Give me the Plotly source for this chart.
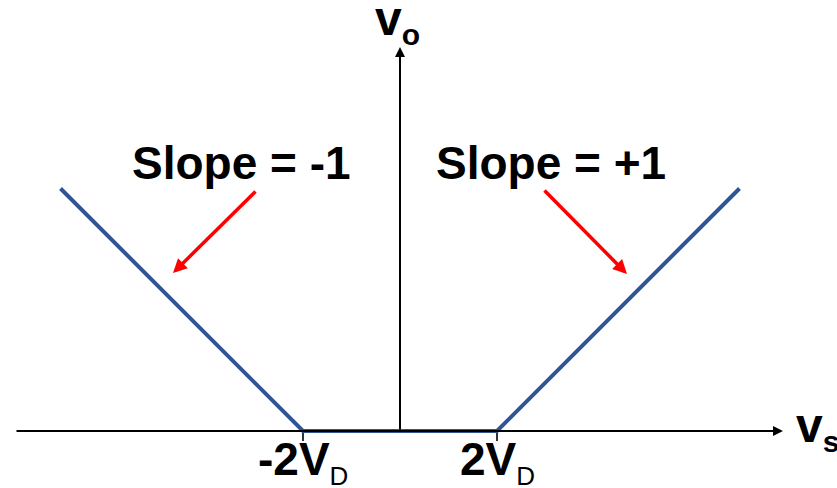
import plotly.graph_objects as go

# Full-wave rectifier transfer characteristic (in units of V_D)
vs = [-7, -2, 2, 7]
vo = [5, 0, 0, 5]

tick_vals = [-2, 2]
tick_text = ["-2V", "2V"]
tick_sub = "D"

slope_text = ["Slope = -1", "Slope = +1"]

W, H = 837, 488
unit = 48.5          # pixels per V_D
ox, oy = 400, 431    # pixel position of the origin


def px(x):
    return (x - ox) / unit


def py(y):
    return (oy - y) / unit


FONT = "Liberation Sans, Arial, sans-serif"
BLUE = "#2F5597"
RED = "#FF0000"

fig = go.Figure()

fig.add_trace(go.Scatter(
    x=vs, y=vo, mode="lines",
    line=dict(color=BLUE, width=4),
    hoverinfo="skip", showlegend=False,
))

annotations = []

# x axis arrow
annotations.append(dict(
    x=px(783), y=0, ax=px(15), ay=0, xref="x", yref="y", axref="x", ayref="y",
    text="", showarrow=True, arrowhead=2, arrowsize=1, arrowwidth=2,
    arrowcolor="black", standoff=0, startstandoff=0,
))
# y axis arrow
annotations.append(dict(
    x=0, y=py(47), ax=0, ay=0, xref="x", yref="y", axref="x", ayref="y",
    text="", showarrow=True, arrowhead=2, arrowsize=1, arrowwidth=2,
    arrowcolor="black", standoff=0, startstandoff=0,
))

# axis names
annotations.append(dict(
    x=px(397), y=py(21), xref="x", yref="y", showarrow=False,
    text="v<sub><span style='font-size:30px'>o</span></sub>",
    font=dict(family=FONT, size=48, color="black", weight="bold"),
    xanchor="center", yanchor="middle",
))
annotations.append(dict(
    x=px(794), y=py(428), xref="x", yref="y", showarrow=False,
    text="v<sub><span style='font-size:30px'>s</span></sub>",
    font=dict(family=FONT, size=48, color="black", weight="bold"),
    xanchor="left", yanchor="middle",
))

# tick labels
for tv, tt in zip(tick_vals, tick_text):
    annotations.append(dict(
        x=tv, y=py(431), xref="x", yref="y", showarrow=False,
        text=f"{tt}<sub><span style='font-size:26px;font-weight:normal'>{tick_sub}</span></sub>",
        font=dict(family=FONT, size=46, color="black", weight="bold"),
        xanchor="center", yanchor="top",
    ))

# slope labels
slope_pos = [(px(241), py(163)), (px(551), py(163))]
for (sx, sy), st in zip(slope_pos, slope_text):
    annotations.append(dict(
        x=sx, y=sy, xref="x", yref="y", showarrow=False, text=st,
        font=dict(family=FONT, size=46, color="black", weight="bold"),
        xanchor="center", yanchor="middle",
    ))

# red pointer arrows
pointers = [((257, 190), (173, 273)), ((543, 189), (627, 274))]
for (tx, ty), (hx, hy) in pointers:
    annotations.append(dict(
        x=px(hx), y=py(hy), ax=px(tx), ay=py(ty),
        xref="x", yref="y", axref="x", ayref="y",
        text="", showarrow=True, arrowhead=2, arrowsize=0.8, arrowwidth=3.5,
        arrowcolor=RED, standoff=0, startstandoff=0,
    ))

shapes = []
for tv in tick_vals:
    shapes.append(dict(
        type="line", xref="x", yref="y", x0=tv, x1=tv, y0=0, y1=py(441),
        line=dict(color="#333333", width=2), layer="below",
    ))

fig.update_layout(
    width=W, height=H,
    margin=dict(l=0, r=0, t=0, b=0),
    paper_bgcolor="white", plot_bgcolor="white",
    xaxis=dict(range=[px(0), px(W)], visible=False, fixedrange=True),
    yaxis=dict(range=[py(H), py(0)], visible=False, fixedrange=True),
    annotations=annotations, shapes=shapes,
    showlegend=False,
)

fig.write_html("out.html")
